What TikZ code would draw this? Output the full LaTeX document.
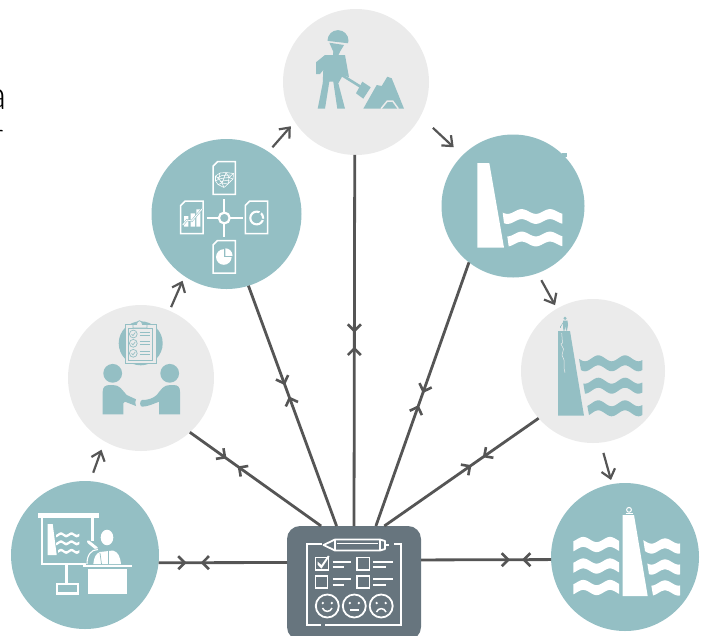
\documentclass[tikz,border=0pt]{standalone}
\usepackage{fontspec}
\newfontfamily\lightfont{Lato Light}
\usetikzlibrary{arrows.meta,decorations.markings}
\definecolor{teal0}{HTML}{94BFC4}
\definecolor{gray0}{HTML}{EBEBEB}
\definecolor{hubc}{HTML}{67757E}
\definecolor{linec}{HTML}{555555}
\newcommand\wavy[9]{\fill[#1] plot[domain=#2:#4,samples=32] (\x,{#5-#8*cos((\x-#6)/#7*360)}) -- plot[domain=#4:#3,samples=32] (\x,{#5+#9-#8*cos((\x-#6)/#7*360)}) -- cycle;}
\newcommand\docshape[2]{\draw[wl,line width=1.5pt,line join=miter] (#1+4.5,#2) -- (#1+22.3,#2) -- (#1+22.3,#2+32.7) -- (#1,#2+32.7) -- (#1,#2+4.5) -- cycle;}
\newcommand\smiley[1]{\draw[wl] (#1,606) circle[radius=11.5];\fill[white] (#1-4.5,603) circle[radius=1.3] (#1+4.5,603) circle[radius=1.3];}
\tikzset{
  disc/.style={circle,inner sep=0pt,outer sep=0pt,minimum size=#1},
  tealdisc/.style={disc=#1,fill=teal0},
  graydisc/.style={disc=#1,fill=gray0},
  hubbox/.style={rectangle,rounded corners=13pt,fill=hubc,inner sep=0pt,outer sep=0pt,minimum width=134pt,minimum height=114pt},
  wl/.style={draw=white,line width=1.8pt},
  gl/.style={draw=teal0,line width=1pt},
  link/.style={draw=linec,line width=2.8pt},
  hop/.style={draw=linec,line width=2.2pt,-{Straight Barb[length=8.5pt,width=14pt]}},
  meet/.style n args={2}{link,postaction={decorate,decoration={markings,
    mark=at position #1pt with {\arrow[line width=2.6pt]{Straight Barb[length=6.5pt,width=13pt]}},
    mark=at position #2pt with {\arrowreversed[line width=2.6pt]{Straight Barb[length=6.5pt,width=13pt]}}}}},
}
\begin{document}
\begin{tikzpicture}[x=1pt,y=-1pt]
\useasboundingbox (0,0) rectangle (706,635);
% cropped text at the left edge
\node[anchor=base east,inner sep=0pt,font=\lightfont\fontsize{40}{40}\selectfont] (txa) at (7.5,109) {a};
\node[anchor=base east,inner sep=0pt,font=\lightfont\fontsize{30}{30}\selectfont] (txr) at (3.5,145) {r};
% nodes
\node[graydisc=146pt] (top) at (356,82) {};
\node[tealdisc=150pt] (tl) at (226.5,214) {};
\node[graydisc=146pt] (gl) at (141,378) {};
\node[tealdisc=148pt] (bl) at (85,555) {};
\fill[teal0] (562,153) rectangle (567,157);
\node[tealdisc=143pt] (tr) at (513,206) {};
\node[graydisc=144pt] (gr) at (593,371) {};
\node[tealdisc=148pt] (br) at (625,557) {};
\node[hubbox] (hub) at (354,583) {};
% hub connectors
\draw[meet={28}{42}] (bl.-6.2) -- (hub.163.4);
\draw[meet={45}{58.8}] (gl.-48.6) -- (hub.120.2);
\draw[meet={105.9}{117.9}] (tl.-73.9) -- (hub.107.3);
\draw[meet={177.7}{191.7}] (top.-91.6) -- (hub.90);
\draw[meet={138.7}{151.4}] (tr.232.9) -- (hub.69.8);
\draw[meet={68.1}{82}] (gr.221.2) -- (hub.62.4);
\draw[meet={29}{41}] (br.182.4) -- (hub.19);
% cycle arrows
\draw[hop,shorten <=9pt,shorten >=9pt] (bl.86.5) -- (gl.240);
\draw[hop,shorten <=4pt,shorten >=5pt] (gl.67.8) -- (tl.236.7);
\draw[hop,shorten <=6pt,shorten >=6pt] (tl.56.1) -- (top.213.1);
\draw[hop,shorten <=17pt,shorten >=12pt] (top.-28) -- (tr.135);
\draw[hop,shorten <=8pt,shorten >=4pt] (tr.-70.2) -- (gr.120);
\draw[hop,shorten <=10.7pt,shorten >=4.3pt] (gr.-84.7) -- (br.100.5);
% ---- hub icon
\draw[wl] (322,543.7) -- (306.7,543.7) -- (306.7,625) -- (321,625);
\draw[wl] (325,625) -- (401,625) -- (401,543.7) -- (394,543.7);
\draw[wl,line join=round] (323.5,545) -- (335,539.5) -- (380,539.5) -- (385,541) -- (385,549) -- (380,550.5) -- (335,550.5) -- cycle;
\draw[wl,line width=1.2pt] (335,539.5) -- (335,550.5) (380,539.5) -- (380,550.5) (337,543.5) -- (378,543.5);
\draw[wl] (385,545) -- (389,545);
\draw[wl] (315.5,557.5) rectangle (328.5,570);
\draw[wl] (357,557.5) rectangle (369.5,570);
\draw[wl] (315.5,575.8) rectangle (327.5,587.8);
\draw[wl] (357,575.8) rectangle (369.5,587.8);
\fill[white] (317.5,561.5) -- (321.5,565) -- (328,555.5) -- (329.5,556.5) -- (321.5,568.5) -- (317.5,564.5) -- cycle;
\draw[wl] (332.7,561.7) -- (351,561.7) (332.7,566.7) -- (344,566.7);
\draw[wl] (373.3,561.7) -- (392.7,561.7) (373.3,566.7) -- (386,566.7);
\draw[wl] (332.7,579.3) -- (351,579.3) (332.7,584.7) -- (344,584.7);
\draw[wl] (373.3,579.3) -- (392.7,579.3) (373.3,584.7) -- (386,584.7);
\smiley{327.3}\smiley{354.3}\smiley{381.2}
\draw[wl,line width=1.5pt] (322.5,608) .. controls (324,612.5) and (330.5,612.5) .. (332,608);
\draw[wl,line width=1.5pt] (350,610) -- (358.5,610);
\draw[wl,line width=1.5pt] (376.5,612) .. controls (378,607.5) and (384.5,607.5) .. (386,612);
% ---- presenter icon
\fill[white] (37.7,512.7) rectangle (99,517.7);
\draw[wl,line width=2.6pt] (92.7,517) -- (92.7,541);
\draw[wl,line width=2.6pt] (42,517) -- (42,564) -- (86,564);
\draw[wl,line width=2.6pt] (66.7,564) -- (66.7,585);
\draw[wl,line width=2.2pt] (56.7,584) rectangle (78.2,593.5);
\fill[white] (47.7,524) -- (52.7,524) -- (56.7,555) -- (47.7,555) -- cycle;
\wavy{white}{56}{56}{79.3}{533.5}{61}{10.5}{1.2}{2.6}
\wavy{white}{56}{56}{79.3}{541.5}{61}{10.5}{1.2}{2.6}
\wavy{white}{58}{58}{79.3}{550}{61}{10.5}{1.2}{2.6}
\fill[white] (107,537.5) ellipse[x radius=6.3,y radius=7.8];
\fill[white] (93.3,564) .. controls (94,557) and (96,553.5) .. (100,552) -- (113,550.5) .. controls (118,552) and (120,556) .. (121,564) -- cycle;
\draw[white,line width=3pt,line cap=round] (88.3,541.7) -- (96.7,548.5);
\draw[teal0,line width=1pt] (108.3,550) -- (108.3,564);
\draw[teal0,line width=0.7pt] (100,553) -- (101.5,564);
\draw[teal0,line width=2.4pt] (87,564) .. controls (87,555) and (91,549.5) .. (98,549.5);
\draw[white,line width=1.1pt] (87,564) .. controls (87,555) and (91,549.5) .. (98,549.5);
\fill[white] (83.3,565) rectangle (132.3,567.2);
\fill[white] (88,568.7) rectangle (127,594);
% ---- handshake icon
\fill[teal0] (140.7,343.3) circle[radius=22];
\draw[gl,fill=gray0,line width=0.8pt] (125,324.5) rectangle (156,363.3);
\draw[gl,fill=gray0,line width=0.8pt] (128.3,328) rectangle (152.7,360);
\draw[gl,fill=gray0,line width=0.7pt] (133,324.5) -- (136.5,324.5) .. controls (137,319.5) and (142,319.5) .. (142.5,324.5) -- (147,324.5) -- (147,328) -- (133,328) -- cycle;
\foreach \cy in {334,343.3,353.3}{
  \draw[gl,line width=0.7pt] (133.3,\cy) circle[radius=3.9];
  \draw[gl,line width=0.7pt] (131.5,\cy) -- (133,\cy+1.5) -- (135.3,\cy-1.5);
  \draw[gl,line width=0.8pt] (139.5,\cy-1.5) -- (150,\cy-1.5) (139.5,\cy+1.2) -- (150,\cy+1.2);
}
\fill[teal0] (112.7,373.3) circle[radius=9.4] (169.7,373.3) circle[radius=9.4];
\fill[teal0] (102.7,414.3) -- (102.7,391.7) .. controls (102.7,387) and (105,385) .. (110,385) -- (113,385) .. controls (120,385) and (122,390) .. (126.7,395) -- (136,399.3) .. controls (135,401) and (135,404) .. (136,406) -- (125,401.7) -- (123.3,403.3) -- (123.3,414.3) -- cycle;
\fill[teal0] (180,414.3) -- (180,391.7) .. controls (180,387) and (178,385) .. (173.3,385) -- (170,385) .. controls (163,385) and (161,390) .. (156.7,395) .. controls (153,398.5) and (148,400) .. (142,400) .. controls (139.5,401) and (139.5,406) .. (142,406.7) .. controls (148,406.5) and (153,404) .. (159,401.7) -- (159,414.3) -- cycle;
% ---- charts icon
\docshape{213}{161.7}\docshape{180.7}{201}\docshape{245.3}{201}\docshape{213}{240.5}
\draw[white,line width=0.55pt,line join=round] (215.5,176) -- (220,173) -- (226,172.5) -- (233.5,173.5) -- (233,179) -- (228,184) -- (224,187.5) -- (218,184.5) -- (215.5,181) -- cycle
 (215.5,176) -- (219,179) -- (215.5,181) (220,173) -- (219,179) -- (224,178) -- (226,172.5) -- (229,177.5) -- (233.5,173.5) (224,178) -- (229,177.5) -- (233,179) (219,179) -- (222,183) -- (218,184.5) (222,183) -- (224,178) (222,183) -- (224,187.5) (222,183) -- (228,184) -- (229,177.5) (217,178) -- (222,175.5) -- (230,175) (220,181.5) -- (226,180.5) -- (231,181);
\fill[white] (184,216) rectangle (188.3,226.7) (190.7,213.3) rectangle (195,226.7) (196.3,209.3) rectangle (200.3,226.7);
\draw[teal0,line width=2pt] (182.7,225) -- (187,220) -- (191.7,221) -- (202,209);
\draw[white,line width=0.9pt] (182.7,225) -- (187,220) -- (191.7,221) -- (202,209);
\draw[wl,line width=2.1pt] (256.7,218) circle[radius=6.4];
\draw[teal0,line width=1.6pt] (256.7,218) -- (262.5,209.5);
\draw[teal0,line width=1.2pt] (256.7,218) -- (266,220);
\fill[white] (223.8,257) circle[radius=7.8];
\fill[teal0] (223.8,248) rectangle (233,257);
\begin{scope}
\clip (225.3,247) rectangle (234.5,255.5);
\fill[white] (225.3,255.5) circle[radius=7.2];
\end{scope}
\draw[wl,line width=2pt] (224.3,199) -- (224.3,212) (224.3,224) -- (224.3,236.7) (206.7,218) -- (218.3,218) (230.3,218) -- (242.7,218);
\draw[wl,line width=2.2pt] (224.3,218) circle[radius=5.4];
% ---- worker icon
\fill[teal0] (316,62.3) -- (325,55) -- (345,55) -- (349,77.3) -- (343.3,75) -- (341.7,77.3) -- (338.3,83.3) -- (345,108.7) -- (337.3,108.7) -- (333.3,81.7) -- (329.3,81.7) -- (325,108.7) -- (317.7,108.7) -- (322.7,83.3) -- (323.3,70) -- (320,74) -- (316,74) -- cycle;
\begin{scope}
\clip (320,40) -- (356,44.2) -- (356,20) -- (320,20) -- cycle;
\fill[teal0] (338,40.6) circle[radius=10.5];
\end{scope}
\fill[teal0] (329.3,42.7) -- (344,45) -- (340,51.7) -- (338,56) -- (333,56) -- (333.3,51.7) -- cycle;
\draw[teal0,line width=2.6pt] (341.7,75) -- (361,87);
\fill[teal0] (362.3,81.7) -- (370.7,87.3) -- (363.3,98.7) -- (356,93.3) -- cycle;
\fill[teal0] (363.3,108.7) -- (376.7,85) -- (381.7,86) -- (387.3,76.7) -- (391.7,78.3) -- (404,108.7) -- cycle;
\draw[gray0,line width=1.5pt] (381,108.7) -- (387.3,101) -- (392.7,101) -- (398.3,108.7);
% ---- dam icon (right teal)
\fill[white] (477.3,163) -- (489.3,163) -- (504,247.7) -- (477.3,247.7) -- cycle;
\wavy{white}{502.7}{504}{562.3}{211.5}{521.7}{28.3}{2.4}{10}
\wavy{white}{507.3}{508.7}{562.3}{234}{521.7}{28.3}{2.4}{10}
% ---- dam icon (right gray)
\fill[teal0] (558,331) -- (570,331) -- (584,415.7) -- (558,415.7) -- cycle;
\wavy{teal0}{579}{581}{642.3}{358.3}{598.3}{26.7}{3}{10}
\wavy{teal0}{583.3}{585}{642.3}{380.7}{598.3}{26.7}{3}{10}
\wavy{teal0}{587.3}{589}{642.3}{403.3}{598.3}{26.7}{3}{10}
\fill[teal0] (565,318.3) circle[radius=1.7];
\fill[teal0] (563,320.5) -- (567.5,320.5) -- (568,325) -- (567,330.5) -- (566,330.5) -- (565.3,326) -- (564.5,330.5) -- (563.3,330.5) -- cycle;
\draw[teal0,line width=0.6pt] (563.5,322) -- (560.7,326.5);
\fill[teal0] (559.8,326) rectangle (561.4,327.5);
\draw[gray0,line width=0.5pt] (561.7,333) -- (562.5,343) -- (561,344) -- (563.5,349) -- (562,355) -- (564,360) -- (564,368) -- (565,372.7);
% ---- dam icon (bottom right)
\fill[white] (622.7,515) -- (634,515) -- (647.7,596) -- (622.7,596) -- cycle;
\draw[wl,line width=1pt] (629,509.8) circle[radius=2.4];
\draw[wl,line width=0.9pt] (625.5,513.2) -- (632.5,513.2);
\wavy{white}{573.3}{573.3}{619}{539.5}{583.3}{26.7}{2.6}{10}
\wavy{white}{573.3}{573.3}{619}{561}{583.3}{26.7}{2.6}{10}
\wavy{white}{573.3}{573.3}{619}{582.5}{583.3}{26.7}{2.6}{10}
\wavy{white}{643.3}{645}{680}{541}{665}{27}{2.6}{10}
\wavy{white}{647.3}{649}{680}{562}{665}{27}{2.6}{10}
\wavy{white}{651.3}{653}{680}{583}{665}{27}{2.6}{10}
\end{tikzpicture}
\end{document}
